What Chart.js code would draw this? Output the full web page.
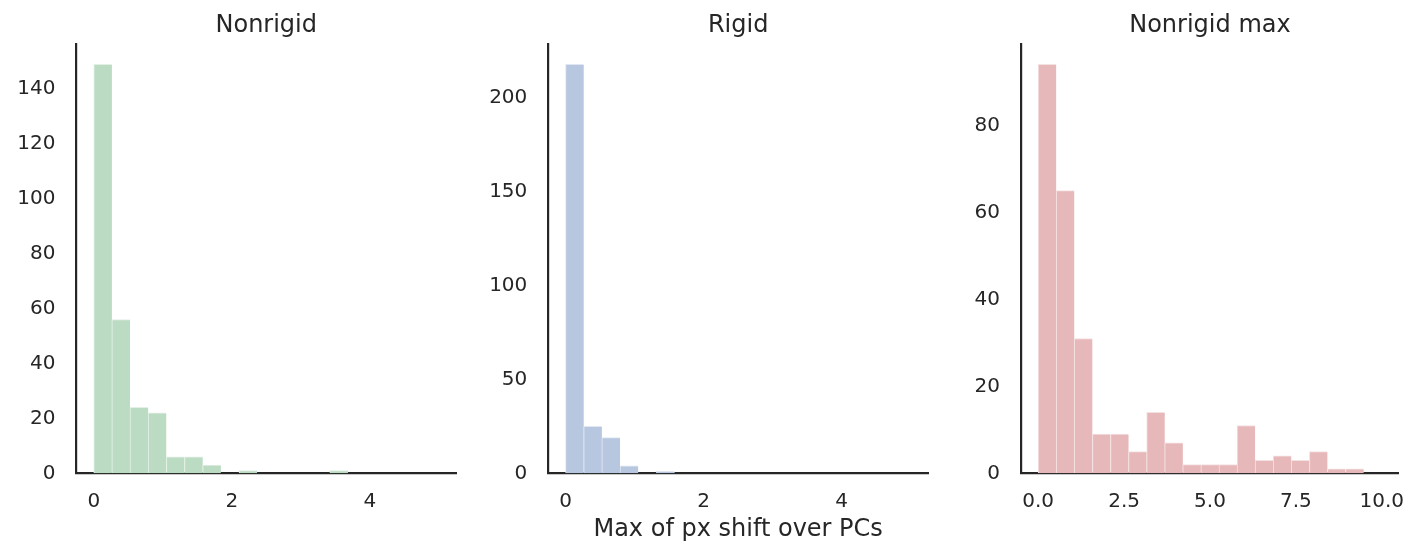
<!DOCTYPE html>
<html>
<head>
<meta charset="utf-8">
<script src="https://cdn.jsdelivr.net/npm/chart.js@4.4.1/dist/chart.umd.min.js"></script>
<style>
  html, body { margin: 0; padding: 0; background: #fff; }
  #wrap { position: relative; width: 1421px; height: 558px; }
  .panel { position: absolute; top: 0; height: 558px; }
</style>
</head>
<body>
<div id="wrap">
  <div class="panel" style="left:0px"><canvas id="nonrigid" width="470" height="558"></canvas></div>
  <div class="panel" style="left:472px"><canvas id="rigid" width="470" height="558"></canvas></div>
  <div class="panel" style="left:944px"><canvas id="nonrigid-max" width="477" height="558"></canvas></div>
</div>
<script>
// histogram counts (19 bins each)
const nonrigidCounts = [149, 56, 24, 22, 6, 6, 3, 0, 1, 0, 0, 0, 0, 1, 0, 0, 0, 0, 0];
const rigidCounts = [218, 25, 19, 4, 0, 1, 0, 0, 0, 0, 0, 0, 0, 0, 0, 0, 0, 0, 0];
const nonrigidMaxCounts = [94, 65, 31, 9, 9, 5, 14, 7, 2, 2, 2, 11, 3, 4, 3, 5, 1, 1, 0];

// bin ranges
const shiftRange = [0, 5];
const maxRange = [0, 10];

// tick labels
const shiftTicks = [0, 2, 4];
const maxTicks = [0, 2.5, 5, 7.5, 10];
const nonrigidYTicks = [0, 20, 40, 60, 80, 100, 120, 140];
const rigidYTicks = [0, 50, 100, 150, 200];
const nonrigidMaxYTicks = [0, 20, 40, 60, 80];

const ink = "#262626";
Chart.defaults.font.family = "'DejaVu Sans', sans-serif";
Chart.defaults.color = ink;

function histChart(id, title, counts, range, xTicks, yTicks, fill, edge, yAxisWidth, rightPad, xLabel, decimals) {
  // centre of each bin, so bars sit on the linear scale
  const w = (range[1] - range[0]) / counts.length;
  const points = counts.map((c, i) => ({ x: range[0] + (i + 0.5) * w, y: c }));
  const pad = (range[1] - range[0]) * 0.05;

  return new Chart(document.getElementById(id), {
    type: "bar",
    data: {
      datasets: [
        {
          data: points,
          backgroundColor: fill,
          borderColor: edge,
          borderWidth: { left: 1, top: 1, right: 0, bottom: 0 },
          borderSkipped: false,
          barPercentage: 1,
          categoryPercentage: 1,
        },
      ],
    },
    options: {
      responsive: false,
      animation: false,
      devicePixelRatio: 1,
      layout: { padding: { left: 0, right: rightPad, top: 0, bottom: 0 } },
      plugins: {
        legend: { display: false },
        tooltip: { enabled: false },
        title: {
          display: true,
          text: title,
          fullSize: false,
          color: ink,
          font: { size: 24, weight: "normal" },
          padding: { top: 11.6, bottom: 3.6 },
        },
      },
      scales: {
        x: {
          type: "linear",
          min: range[0] - pad,
          max: range[1] + pad,
          offset: false,
          grid: { display: false, drawTicks: false },
          border: { display: true, color: ink, width: 2.2 },
          ticks: {
            color: ink,
            font: { size: 20 },
            padding: 16,
            maxRotation: 0,
            autoSkip: false,
            callback: (v) => (decimals ? Number(v).toFixed(1) : String(v)),
          },
          afterBuildTicks: (s) => {
            s.ticks = xTicks.map((v) => ({ value: v }));
          },
          afterFit: (s) => {
            s.height = 558 - 473.3;
          },
          title: {
            display: !!xLabel,
            text: xLabel || "",
            color: ink,
            font: { size: 24 },
            padding: { top: 0, bottom: 14 },
          },
        },
        y: {
          min: 0,
          max: Math.max(...counts) * 1.05,
          grid: { display: false, drawTicks: false },
          border: { display: true, color: ink, width: 2.2 },
          ticks: { color: ink, font: { size: 20 }, padding: 21 },
          afterBuildTicks: (s) => {
            s.ticks = yTicks.map((v) => ({ value: v }));
          },
          afterFit: (s) => {
            s.width = yAxisWidth;
          },
        },
      },
    },
  });
}

histChart("nonrigid", "Nonrigid", nonrigidCounts, shiftRange, shiftTicks, nonrigidYTicks,
  "rgb(187,220,195)", "rgb(226,240,230)", 76.5, 14, null, false);
histChart("rigid", "Rigid", rigidCounts, shiftRange, shiftTicks, rigidYTicks,
  "rgb(183,199,223)", "rgb(224,231,242)", 76.3, 14, "Max of px shift over PCs", false);
histChart("nonrigid-max", "Nonrigid max", nonrigidMaxCounts, maxRange, maxTicks, nonrigidMaxYTicks,
  "rgb(231,184,186)", "rgb(245,225,226)", 77, 14, null, true);
</script>
</body>
</html>
